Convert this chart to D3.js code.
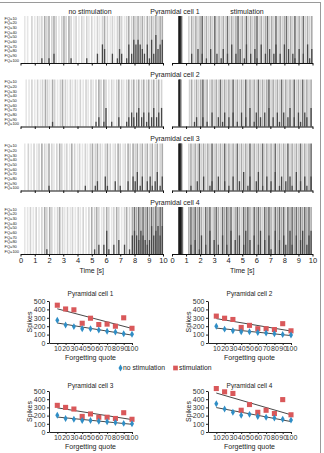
<!DOCTYPE html>
<html>
<head>
<meta charset="utf-8">
<script src="https://cdn.jsdelivr.net/npm/d3@7"></script>
<style>
  body { margin: 0; background: #fff; }
  text { font-family: "Liberation Sans", Arial, sans-serif; fill: #222; }
</style>
</head>
<body>
<div id="chart"></div>
<script>
// raster spikes: [time s, gray level 1-5, dark rows counted from bottom]
var cell1NoStim = [[0.3,1,0],[0.5,1,0],[0.8,2,0],[1.0,1,0],[1.2,2,0],[1.35,1,0],[1.5,2,1],[1.7,3,0],[1.85,2,0],[2.0,3,1],[2.2,2,0],[2.35,3,2],[2.5,2,0],[2.7,1,0],[2.9,2,0],[3.05,3,0],[3.2,2,0],[3.4,3,0],[3.55,2,1],[3.75,1,0],[3.9,2,0],[4.1,1,0],[4.3,2,0],[4.45,1,0],[4.65,2,1],[4.8,1,0],[5.0,2,0],[5.2,1,0],[5.4,2,2],[5.55,1,0],[5.75,2,4],[5.9,3,3],[6.1,2,0],[6.3,1,0],[6.45,2,2],[6.6,1,0],[6.8,2,1],[6.95,3,3],[7.1,2,2],[7.3,1,0],[7.45,2,1],[7.6,3,4],[7.8,2,2],[7.95,3,5],[8.1,2,4],[8.25,3,5],[8.4,2,4],[8.55,3,3],[8.7,2,2],[8.9,3,4],[9.05,2,1],[9.2,3,5],[9.35,2,2],[9.5,3,6],[9.65,2,3],[9.8,3,4],[9.95,3,5]];
var cell1Stim = [[0.5,5,0],[0.56,5,0],[0.62,5,0],[0.68,4,0],[1.2,2,0],[1.4,3,2],[1.55,2,0],[1.7,3,0],[1.85,2,3],[2.0,3,0],[2.15,4,2],[2.3,2,0],[2.45,3,1],[2.6,2,0],[2.75,3,3],[2.9,2,0],[3.05,4,0],[3.2,2,2],[3.35,3,0],[3.5,2,1],[3.65,3,3],[3.8,2,0],[3.95,4,2],[4.1,2,0],[4.25,3,4],[4.4,2,0],[4.55,3,2],[4.7,4,0],[4.85,2,3],[5.0,3,0],[5.15,2,1],[5.3,4,4],[5.45,2,0],[5.6,3,2],[5.75,2,0],[5.9,3,3],[6.05,4,1],[6.2,2,0],[6.35,3,4],[6.5,2,0],[6.65,3,2],[6.8,4,0],[6.95,2,3],[7.1,3,0],[7.25,2,2],[7.4,4,4],[7.55,2,0],[7.7,3,2],[7.85,2,0],[8.0,3,4],[8.15,4,0],[8.3,2,3],[8.45,3,0],[8.6,2,2],[8.75,4,1],[8.9,2,0],[9.05,3,3],[9.2,2,0],[9.35,4,2],[9.5,2,0],[9.65,3,4],[9.8,2,1],[9.95,3,3]];
var cell2NoStim = [[0.4,1,0],[0.6,1,0],[0.8,2,0],[1.0,1,0],[1.2,2,0],[1.4,1,0],[1.55,2,0],[1.75,3,0],[1.9,2,0],[2.05,1,0],[2.25,3,1],[2.4,2,0],[2.6,1,0],[2.8,2,0],[2.95,3,0],[3.15,2,0],[3.3,1,0],[3.5,2,0],[3.65,1,0],[3.85,2,0],[4.0,1,0],[4.2,2,0],[4.4,1,0],[4.6,2,0],[4.75,1,0],[4.95,2,0],[5.1,1,0],[5.3,2,1],[5.5,3,2],[5.65,2,0],[5.85,3,1],[6.0,2,4],[6.2,1,0],[6.4,2,1],[6.55,1,0],[6.75,2,0],[6.9,3,2],[7.1,2,0],[7.25,1,0],[7.45,2,1],[7.6,3,2],[7.8,2,3],[7.95,3,2],[8.15,2,3],[8.3,3,4],[8.5,2,2],[8.65,3,3],[8.85,2,1],[9.0,3,3],[9.2,2,2],[9.35,3,4],[9.55,2,2],[9.7,3,3],[9.9,2,4]];
var cell2Stim = [[0.5,5,0],[0.56,5,0],[0.62,4,0],[1.25,2,0],[1.4,3,0],[1.6,2,1],[1.75,3,2],[1.9,2,0],[2.05,3,0],[2.2,4,2],[2.35,2,0],[2.5,3,1],[2.7,2,0],[2.85,3,3],[3.0,2,0],[3.15,3,0],[3.3,2,2],[3.45,4,0],[3.6,2,1],[3.75,3,3],[3.9,2,0],[4.05,3,2],[4.2,2,0],[4.35,4,3],[4.5,2,0],[4.65,3,1],[4.8,2,0],[4.95,3,3],[5.1,2,0],[5.25,4,2],[5.4,2,0],[5.55,3,4],[5.7,2,0],[5.85,3,1],[6.0,2,3],[6.15,4,0],[6.3,2,2],[6.45,3,0],[6.6,2,3],[6.75,3,0],[6.9,4,4],[7.05,2,0],[7.2,3,2],[7.35,2,0],[7.5,3,3],[7.65,2,1],[7.8,4,0],[7.95,2,3],[8.1,3,0],[8.25,2,2],[8.4,3,4],[8.55,2,0],[8.7,4,2],[8.85,2,0],[9.0,3,3],[9.15,2,1],[9.3,4,0],[9.45,2,3],[9.6,3,2],[9.75,2,0],[9.9,3,4]];
var cell3NoStim = [[0.3,1,0],[0.55,2,0],[0.75,1,0],[0.95,2,0],[1.15,1,0],[1.3,2,0],[1.5,3,0],[1.7,2,0],[1.85,1,0],[2.0,3,1],[2.2,2,0],[2.35,1,0],[2.55,2,0],[2.75,3,0],[2.9,2,0],[3.1,1,0],[3.25,2,0],[3.45,1,0],[3.6,3,0],[3.8,2,0],[4.0,1,0],[4.15,2,0],[4.35,1,0],[4.55,2,1],[4.7,1,0],[4.9,2,0],[5.05,3,0],[5.25,2,1],[5.4,3,2],[5.6,2,0],[5.75,1,0],[5.95,2,3],[6.1,3,1],[6.3,2,0],[6.5,1,0],[6.65,2,2],[6.85,3,0],[7.0,2,1],[7.2,1,0],[7.35,2,0],[7.55,3,2],[7.7,2,0],[7.9,3,3],[8.05,2,2],[8.2,3,4],[8.4,2,1],[8.55,3,3],[8.75,2,0],[8.9,3,2],[9.1,2,3],[9.25,3,1],[9.45,2,2],[9.6,3,4],[9.8,2,1],[9.95,3,3]];
var cell3Stim = [[0.5,5,0],[0.56,5,0],[0.62,5,0],[0.68,4,0],[1.2,2,0],[1.35,3,1],[1.5,2,0],[1.65,3,0],[1.8,2,2],[1.95,4,0],[2.1,2,0],[2.25,3,3],[2.4,2,0],[2.55,3,0],[2.7,2,1],[2.85,4,2],[3.0,2,0],[3.15,3,0],[3.3,2,3],[3.45,3,0],[3.6,2,0],[3.75,4,2],[3.9,2,0],[4.05,3,1],[4.2,2,0],[4.35,3,3],[4.5,2,0],[4.65,4,0],[4.8,2,2],[4.95,3,0],[5.1,2,4],[5.25,3,0],[5.4,2,1],[5.55,4,3],[5.7,2,0],[5.85,3,0],[6.0,2,2],[6.15,3,4],[6.3,2,0],[6.45,4,1],[6.6,2,0],[6.75,3,3],[6.9,2,0],[7.05,3,2],[7.2,2,0],[7.35,4,4],[7.5,2,0],[7.65,3,1],[7.8,2,3],[7.95,3,0],[8.1,2,2],[8.25,4,0],[8.4,2,3],[8.55,3,1],[8.7,2,0],[8.85,3,4],[9.0,2,0],[9.15,4,2],[9.3,2,0],[9.45,3,3],[9.6,2,1],[9.75,3,0],[9.9,4,3]];
var cell4NoStim = [[0.3,1,0],[0.5,1,0],[0.7,2,0],[0.9,1,0],[1.1,2,0],[1.3,1,0],[1.5,2,0],[1.7,3,0],[1.85,2,1],[2.05,3,0],[2.2,2,0],[2.4,1,0],[2.6,2,0],[2.75,3,0],[2.95,2,0],[3.1,1,0],[3.3,2,0],[3.5,1,0],[3.65,2,0],[3.85,1,0],[4.05,2,0],[4.2,1,0],[4.4,2,0],[4.6,1,0],[4.8,2,0],[5.0,3,0],[5.2,2,1],[5.35,3,0],[5.5,2,2],[5.7,1,0],[5.85,2,2],[6.05,3,5],[6.2,2,1],[6.4,1,0],[6.55,2,2],[6.75,3,0],[6.9,2,3],[7.1,1,0],[7.3,2,2],[7.45,3,0],[7.65,2,1],[7.85,3,4],[8.0,4,5],[8.15,3,4],[8.3,4,3],[8.45,3,5],[8.6,4,4],[8.75,3,3],[8.9,4,2],[9.05,3,3],[9.2,4,6],[9.35,3,4],[9.5,4,5],[9.65,3,6],[9.8,4,4],[9.95,4,6]];
var cell4Stim = [[0.5,5,0],[0.56,5,0],[0.62,5,0],[0.68,5,0],[0.74,4,0],[1.2,3,0],[1.35,4,2],[1.5,3,0],[1.65,4,3],[1.8,3,0],[1.95,4,1],[2.1,3,4],[2.25,2,0],[2.4,4,2],[2.55,3,0],[2.7,4,5],[2.85,2,0],[3.0,3,3],[3.15,4,0],[3.3,3,2],[3.45,2,0],[3.6,4,4],[3.75,3,0],[3.9,4,2],[4.05,3,0],[4.2,4,5],[4.35,2,0],[4.5,3,3],[4.65,4,0],[4.8,3,4],[4.95,2,0],[5.1,4,2],[5.25,3,5],[5.4,4,0],[5.55,3,3],[5.7,2,0],[5.85,4,4],[6.0,3,0],[6.15,4,2],[6.3,3,5],[6.45,2,0],[6.6,4,3],[6.75,3,0],[6.9,4,4],[7.05,3,1],[7.2,2,0],[7.35,4,5],[7.5,3,0],[7.65,4,3],[7.8,3,0],[7.95,4,4],[8.1,2,2],[8.25,4,0],[8.4,3,5],[8.55,4,2],[8.7,3,0],[8.85,4,4],[9.0,3,0],[9.15,4,3],[9.3,3,5],[9.45,4,0],[9.6,3,2],[9.75,4,4],[9.9,3,5]];

var fqLabels = ["FQ=10","FQ=20","FQ=30","FQ=40","FQ=50","FQ=60","FQ=70","FQ=80","FQ=90","FQ=100"];
var timeTicks = [0,1,2,3,4,5,6,7,8,9,10];
var cellNames = ["Pyramidal cell 1","Pyramidal cell 2","Pyramidal cell 3","Pyramidal cell 4"];

// spike counts per forgetting quote
var forgetQuote = [10,20,30,40,50,60,70,80,90,100];
var spikesNoStim = [
  [270,215,195,170,170,155,140,130,110,105],
  [200,165,145,135,135,125,120,110,100,95],
  [205,165,155,140,140,130,125,115,105,100],
  [345,280,240,205,215,190,180,170,155,145]
];
var spikesStim = [
  [450,405,395,235,295,220,225,200,300,175],
  [320,295,280,185,210,170,170,160,230,145],
  [325,300,280,190,220,180,180,165,235,155],
  [530,490,470,265,335,240,265,225,395,210]
];
var spikeTicks = [0,100,200,300,400,500];

var grays = ["#fff","#e6e6e6","#d2d2d2","#ababab","#6e6e6e","#1a1a1a"];
var darkGray = "#474747";
var stimColor = "#d9585a";
var noStimColor = "#2f8ec6";

var svg = d3.select("#chart").append("svg")
  .attr("width", 324)
  .attr("height", 453);

// frame
svg.append("rect")
  .attr("x", -1).attr("y", 2.5)
  .attr("width", 321.5).attr("height", 460)
  .style("fill", "none")
  .style("stroke", "#9a9a9a");

function drawRaster(spikes, x0, x1, axisY, showLabels, showFQ) {
  var x = d3.scaleLinear().domain([0, 10]).range([x0, x1]);
  var rowH = 4.65;
  var top = axisY - 10 * rowH - 0.5;
  var g = svg.append("g");

  g.selectAll(".spk").data(spikes).enter().append("line")
    .attr("x1", function(d){ return x(d[0]); })
    .attr("x2", function(d){ return x(d[0]); })
    .attr("y1", top)
    .attr("y2", axisY)
    .style("stroke", function(d){ return grays[d[1]]; })
    .style("stroke-width", 1.6);

  g.selectAll(".dark").data(spikes.filter(function(d){ return d[2] > 0; })).enter().append("line")
    .attr("x1", function(d){ return x(d[0]); })
    .attr("x2", function(d){ return x(d[0]); })
    .attr("y1", function(d){ return axisY - d[2] * rowH; })
    .attr("y2", axisY)
    .style("stroke", darkGray)
    .style("stroke-width", 1.3);

  if (showFQ) {
    g.selectAll(".fq").data(fqLabels).enter().append("text")
      .attr("x", 4.5)
      .attr("y", function(d, i){ return top + (i + 0.5) * rowH + 1.5; })
      .style("font-size", "4px")
      .text(function(d){ return d; });
  }

  var axis = d3.axisBottom(x)
    .tickValues(timeTicks)
    .tickSize(2.5)
    .tickSizeOuter(0)
    .tickPadding(1.5)
    .tickFormat(showLabels ? d3.format("d") : "");
  var ax = g.append("g")
    .attr("transform", "translate(0," + axisY + ")")
    .call(axis);
  ax.select(".domain").style("stroke", "#111").style("stroke-width", 1.2);
  ax.selectAll(".tick line").style("stroke", "#111");
  ax.selectAll("text").style("font-size", "7.5px").style("font-family", "Liberation Sans, Arial, sans-serif").style("fill", "#222");

  if (showLabels) {
    g.append("text")
      .attr("x", (x0 + x1) / 2)
      .attr("y", axisY + 18.5)
      .attr("text-anchor", "middle")
      .style("font-size", "7px")
      .text("Time [s]");
  }
}

var rasterAxisY = [63, 126.5, 190.5, 254];
var rasterSets = [[cell1NoStim, cell1Stim], [cell2NoStim, cell2Stim], [cell3NoStim, cell3Stim], [cell4NoStim, cell4Stim]];

rasterSets.forEach(function(pair, i) {
  var last = (i == 3);
  drawRaster(pair[0], 20.5, 163, rasterAxisY[i], last, true);
  drawRaster(pair[1], 172, 312.5, rasterAxisY[i], last, false);
  svg.append("text")
    .attr("x", 175)
    .attr("y", rasterAxisY[i] - 49.5)
    .attr("text-anchor", "middle")
    .style("font-size", "7px")
    .text(cellNames[i]);
});

svg.append("text").attr("x", 90).attr("y", 13.5).attr("text-anchor", "middle")
  .style("font-size", "7px").text("no stimulation");
svg.append("text").attr("x", 247).attr("y", 13.5).attr("text-anchor", "middle")
  .style("font-size", "7px").text("stimulation");

function linearFit(xs, ys) {
  var mx = d3.mean(xs), my = d3.mean(ys);
  var sxy = d3.sum(xs, function(v, i){ return (v - mx) * (ys[i] - my); });
  var sxx = d3.sum(xs, function(v){ return (v - mx) * (v - mx); });
  var b = sxy / sxx;
  return function(v){ return my + b * (v - mx); };
}

function drawScatter(idx, x0, x1, y0, y500, titleY) {
  var x = d3.scaleLinear().domain([0, 100]).range([x0, x1]);
  var y = d3.scaleLinear().domain([0, 500]).range([y0, y500]);
  var g = svg.append("g");

  g.append("text")
    .attr("x", (x0 + x1) / 2)
    .attr("y", titleY + 2.2)
    .attr("text-anchor", "middle")
    .style("font-size", "6.5px")
    .text(cellNames[idx]);

  var ya = g.append("g")
    .attr("transform", "translate(" + x0 + ",0)")
    .call(d3.axisLeft(y).tickValues(spikeTicks).tickSize(2).tickSizeOuter(0).tickPadding(1.5));
  var xa = g.append("g")
    .attr("transform", "translate(0," + y0 + ")")
    .call(d3.axisBottom(x).tickValues(forgetQuote).tickSize(2).tickSizeOuter(0).tickPadding(1.5));
  [ya, xa].forEach(function(a) {
    a.select(".domain").style("stroke", "#222");
    a.selectAll(".tick line").style("stroke", "#222");
    a.selectAll("text").style("font-size", "7px").style("font-family", "Liberation Sans, Arial, sans-serif").style("fill", "#333");
  });

  g.append("text")
    .attr("transform", "translate(" + (x0 - 17) + "," + ((y0 + y500) / 2) + ") rotate(-90)")
    .attr("text-anchor", "middle")
    .style("font-size", "7px")
    .text("Spikes");
  g.append("text")
    .attr("x", (x0 + x1) / 2)
    .attr("y", y0 + 16.5)
    .attr("text-anchor", "middle")
    .style("font-size", "7px")
    .text("Forgetting quote");

  var fitS = linearFit(forgetQuote, spikesStim[idx]);
  var fitN = linearFit(forgetQuote, spikesNoStim[idx]);
  [fitS, fitN].forEach(function(f) {
    g.append("line")
      .attr("x1", x(10)).attr("y1", y(f(10)))
      .attr("x2", x(100)).attr("y2", y(f(100)))
      .style("stroke", "#333")
      .style("stroke-width", 0.9);
  });

  g.selectAll(".sq").data(spikesStim[idx]).enter().append("path")
    .attr("d", d3.symbol(d3.symbolSquare, 26))
    .attr("transform", function(d, i){ return "translate(" + x(forgetQuote[i]) + "," + y(d) + ")"; })
    .style("fill", stimColor);
  g.selectAll(".dm").data(spikesNoStim[idx]).enter().append("path")
    .attr("d", d3.symbol(d3.symbolDiamond, 14))
    .attr("transform", function(d, i){ return "translate(" + x(forgetQuote[i]) + "," + y(d) + ")"; })
    .style("fill", noStimColor);
}

drawScatter(0, 49, 132, 343, 301, 294);
drawScatter(1, 208, 291, 343, 301, 294);
drawScatter(2, 49, 132, 432, 391, 385.5);
drawScatter(3, 208, 291, 432, 391, 385.5);

// legend
var legend = svg.append("g");
legend.append("path")
  .attr("d", d3.symbol(d3.symbolDiamond, 14))
  .attr("transform", "translate(120.5,368)")
  .style("fill", noStimColor);
legend.append("text").attr("x", 123).attr("y", 370.3)
  .style("font-size", "6.8px").text("no stimulation");
legend.append("path")
  .attr("d", d3.symbol(d3.symbolSquare, 22))
  .attr("transform", "translate(175.5,368)")
  .style("fill", stimColor);
legend.append("text").attr("x", 179).attr("y", 370.3)
  .style("font-size", "6.8px").text("stimulation");
</script>
</body>
</html>
